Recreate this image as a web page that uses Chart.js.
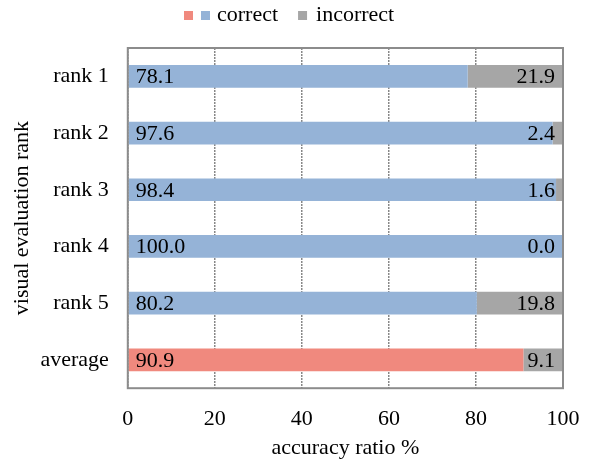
<!DOCTYPE html>
<html>
<head>
<meta charset="utf-8">
<script src="https://cdn.jsdelivr.net/npm/chart.js@4"></script>
<style>
  html, body { margin: 0; padding: 0; background: #fff; }
  #wrap { width: 590px; height: 461px; }
</style>
</head>
<body>
<div id="wrap"><canvas id="myChart"></canvas></div>
<script>
const ranks = ['rank 1', 'rank 2', 'rank 3', 'rank 4', 'rank 5', 'average'];
const correct = [78.1, 97.6, 98.4, 100.0, 80.2, 90.9];
const incorrect = [21.9, 2.4, 1.6, 0.0, 19.8, 9.1];
const xTicks = [0, 20, 40, 60, 80, 100];

const FONT = "'Liberation Serif', 'Times New Roman', serif";
const BLUE = '#95B3D7';
const RED = '#F0897E';
const GRAY = '#A6A6A6';

// plot frame, value labels and the legend (red+blue squares share "correct")
const extras = {
    id: 'extras',
    afterDatasetsDraw(chart) {
        const ctx = chart.ctx;
        const a = chart.chartArea;
        ctx.save();
        ctx.font = '22px ' + FONT;
        ctx.fillStyle = '#000';
        ctx.textBaseline = 'middle';
        chart.getDatasetMeta(0).data.forEach(function (bar, i) {
            ctx.textAlign = 'left';
            ctx.fillText(correct[i].toFixed(1), a.left + 8, bar.y + 1);
        });
        chart.getDatasetMeta(1).data.forEach(function (bar, i) {
            ctx.textAlign = 'right';
            ctx.fillText(incorrect[i].toFixed(1), bar.x - 8, bar.y + 1);
        });
        ctx.strokeStyle = '#8C8C8C';
        ctx.lineWidth = 2;
        ctx.strokeRect(a.left, a.top, a.right - a.left, a.bottom - a.top);
        ctx.restore();
    },
    afterDraw(chart) {
        const ctx = chart.ctx;
        ctx.save();
        ctx.font = '22px ' + FONT;
        ctx.textBaseline = 'middle';
        ctx.textAlign = 'left';
        const box = 9, y = 15.5;
        const w1 = ctx.measureText('correct').width;
        const w2 = ctx.measureText('incorrect').width;
        const total = box + 8 + box + 7 + w1 + 20 + box + 9 + w2;
        let x = Math.round(chart.width / 2 - 6 - total / 2);
        ctx.fillStyle = RED;
        ctx.fillRect(x, y - box / 2, box, box);
        x += box + 8;
        ctx.fillStyle = BLUE;
        ctx.fillRect(x, y - box / 2, box, box);
        x += box + 7;
        ctx.fillStyle = '#000';
        ctx.fillText('correct', x, y);
        x += w1 + 20;
        ctx.fillStyle = GRAY;
        ctx.fillRect(x, y - box / 2, box, box);
        x += box + 9;
        ctx.fillStyle = '#000';
        ctx.fillText('incorrect', x, y);
        ctx.restore();
    }
};

new Chart(document.getElementById('myChart'), {
    type: 'bar',
    data: {
        labels: ranks,
        datasets: [{
            label: 'correct',
            data: correct,
            backgroundColor: correct.map(function (v, i) { return i === ranks.length - 1 ? RED : BLUE; }),
            barPercentage: 0.4,
            categoryPercentage: 1
        }, {
            label: 'incorrect',
            data: incorrect,
            backgroundColor: GRAY,
            barPercentage: 0.4,
            categoryPercentage: 1
        }]
    },
    options: {
        indexAxis: 'y',
        responsive: true,
        maintainAspectRatio: false,
        animation: false,
        layout: { padding: { left: 9, right: 27, top: 48, bottom: 0 } },
        plugins: {
            legend: { display: false },
            tooltip: { enabled: false }
        },
        scales: {
            x: {
                stacked: true,
                min: 0,
                max: 100,
                afterBuildTicks: function (axis) {
                    axis.ticks = xTicks.map(function (v) { return { value: v }; });
                },
                afterFit: function (axis) {
                    axis.paddingLeft = 0;
                    axis.paddingRight = 0;
                },
                grid: { color: '#888', drawTicks: false, tickLength: 0, lineWidth: 1.5 },
                border: { display: false, dash: [2, 1] },
                ticks: { color: '#000', font: { family: FONT, size: 22 }, padding: 18, maxRotation: 0 },
                title: {
                    display: true,
                    text: 'accuracy ratio %',
                    color: '#000',
                    font: { family: FONT, size: 22 },
                    padding: { top: -16, bottom: 0 }
                }
            },
            y: {
                stacked: true,
                grid: { display: false, drawTicks: false, tickLength: 0 },
                border: { display: false },
                ticks: { color: '#000', font: { family: FONT, size: 22 }, padding: 19 },
                title: {
                    display: true,
                    text: 'visual evaluation rank',
                    color: '#000',
                    font: { family: FONT, size: 22 },
                    padding: { top: 0, bottom: -14 }
                }
            }
        }
    },
    plugins: [extras]
});
</script>
</body>
</html>
